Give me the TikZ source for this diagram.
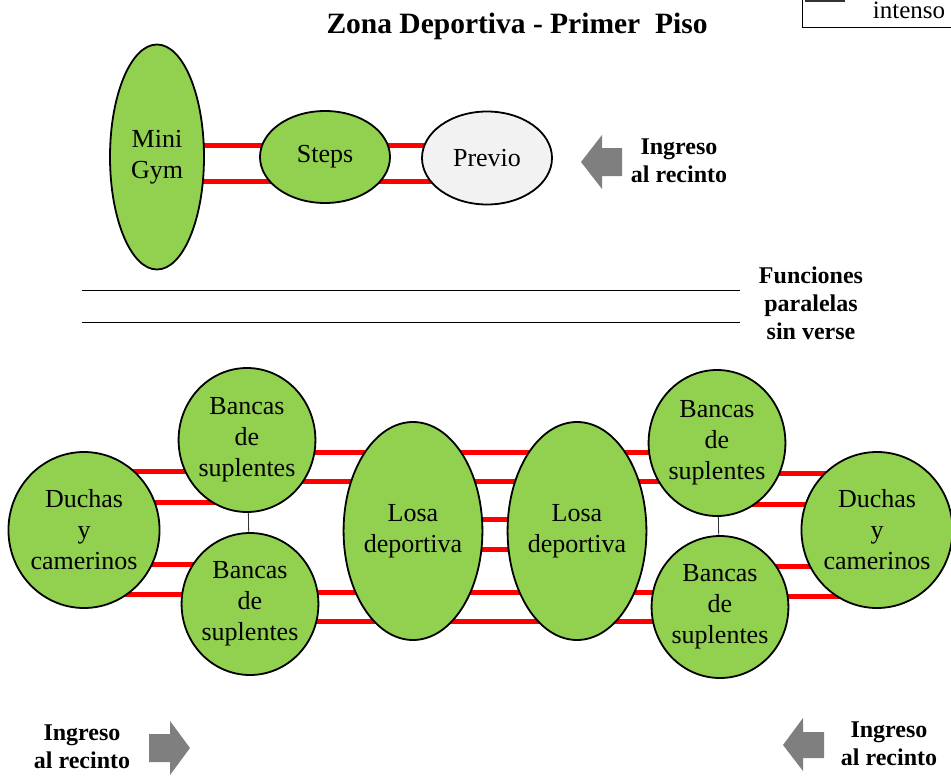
\documentclass[tikz,border=0pt]{standalone}
\usepackage{fontspec}
\setmainfont{Liberation Serif}
\usepackage{tikz}
\usetikzlibrary{shapes.geometric,backgrounds}
\definecolor{zonegreen}{HTML}{92D050}
\definecolor{zonegray}{HTML}{F2F2F2}
\definecolor{arrowgray}{HTML}{7F7F7F}

\begin{document}
\begin{tikzpicture}[
    x=1pt, y=-1pt,
    zone/.style={ellipse, draw=black, line width=1.8pt, fill=zonegreen, inner sep=0pt, align=center, font=\fontsize{26}{31}\selectfont},
    link/.style={red, line width=5pt},
    note/.style={align=center, font=\fontsize{24}{28}\selectfont\bfseries},
    entry/.style={fill=arrowgray}
]
\useasboundingbox (0,0) rectangle (951,776);

% Title and legend
\node[font=\fontsize{29.5}{34}\selectfont\bfseries] (title) at (517,26) {Zona Deportiva - Primer~ Piso};
\draw[line width=0.8pt] (802,-10) -- (802,27) -- (960,27);
\draw[line width=2pt, black!80] (805,1) -- (845,1);
\node[anchor=base, font=\fontsize{25}{30}\selectfont] (legend) at (909,19) {intenso};

% Upper zone
\node[zone, minimum width=94pt, minimum height=225pt] (gym) at (157,157) {Mini\\Gym};
\node[zone, minimum width=130pt, minimum height=92pt] (steps) at (325,157) {Steps};
\node[zone, fill=zonegray, minimum width=130pt, minimum height=93pt] (previo) at (487,158) {Previo};
\node[note] (ingA) at (679,161) {Ingreso\\al recinto};

% Separation
\draw[line width=1pt] (82,290) -- (740,290);
\draw[line width=1pt] (82,322) -- (740,322);
\node[note] (paral) at (811,303) {Funciones\\paralelas\\sin verse};

% Lower zone
\node[zone, minimum width=147pt, minimum height=156pt] (duchL) at (84,530) {Duchas\\y\\camerinos};
\node[zone, minimum width=124pt, minimum height=144pt] (btl) at (247,440) {Bancas\\de\\suplentes};
\node[zone, minimum width=124pt, minimum height=142pt] (bbl) at (250,604) {Bancas\\de\\suplentes};
\node[zone, minimum width=122pt, minimum height=218pt] (losaL) at (413,531) {Losa\\deportiva};
\node[zone, minimum width=126pt, minimum height=218pt] (losaR) at (577,531) {Losa\\deportiva};
\node[zone, minimum width=124pt, minimum height=146pt] (btr) at (717,443) {Bancas\\de\\suplentes};
\node[zone, minimum width=124pt, minimum height=142pt] (bbr) at (720,607) {Bancas\\de\\suplentes};
\node[zone, minimum width=146pt, minimum height=156pt] (duchR) at (877,530) {Duchas\\y\\camerinos};
\node[note] (ingB) at (82,747) {Ingreso\\al recinto};
\node[note] (ingC) at (889,744) {Ingreso\\al recinto};

% Entry arrows
\coordinate (tipA) at (581,162);
\coordinate (tipB) at (190,748);
\coordinate (tipC) at (783,745);
\fill[entry] (tipA) -- ++(21,-27) -- ++(0,13) -- ++(20,0) -- ++(0,28) -- ++(-20,0) -- ++(0,13) -- cycle;
\fill[entry] (tipB) -- ++(-20,-27) -- ++(0,13) -- ++(-21,0) -- ++(0,28) -- ++(21,0) -- ++(0,13) -- cycle;
\fill[entry] (tipC) -- ++(20,-27) -- ++(0,14) -- ++(21,0) -- ++(0,26) -- ++(-21,0) -- ++(0,13) -- cycle;

% Connections
\begin{scope}[on background layer]
    \foreach \y in {145,181} {
        \draw[link] (gym |- 0,\y) -- (steps |- 0,\y);
        \draw[link] (steps |- 0,\y) -- (previo |- 0,\y);
    }
    \foreach \y in {471,502} {
        \draw[link] (duchL |- 0,\y) -- (btl |- 0,\y);
        \draw[link] (btr |- 0,\y+2) -- (duchR |- 0,\y+2);
    }
    \foreach \y in {564,594} {
        \draw[link] (duchL |- 0,\y) -- (bbl |- 0,\y);
        \draw[link] (bbr |- 0,\y+2) -- (duchR |- 0,\y+2);
    }
    \foreach \y in {452,481} \draw[link] (btl |- 0,\y) -- (btr |- 0,\y);
    \foreach \y in {519,549} \draw[link] (losaL |- 0,\y) -- (losaR |- 0,\y);
    \foreach \y in {592,621} \draw[link] (bbl |- 0,\y) -- (bbr |- 0,\y);
    \draw[black!80, line width=0.8pt] (btl) -- (bbl);
    \draw[black!80, line width=0.8pt] (btr) -- (bbr);
\end{scope}

\end{tikzpicture}
\end{document}
